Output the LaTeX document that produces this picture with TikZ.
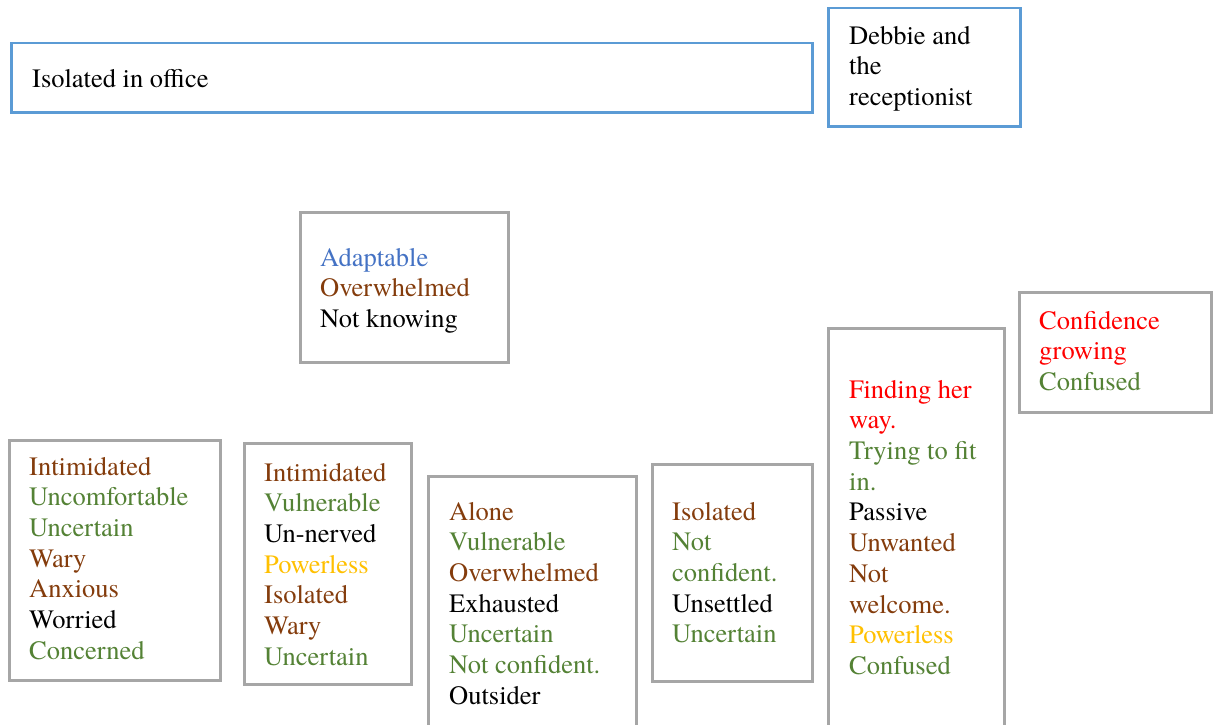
\documentclass[tikz,border=0pt]{standalone}
\usepackage{fontspec}
\setmainfont{texgyretermes-regular.otf}
\definecolor{brn}{HTML}{843C0C}
\definecolor{grn}{HTML}{548235}
\definecolor{blu}{HTML}{4472C4}
\definecolor{gld}{HTML}{FFC000}
\definecolor{red}{HTML}{FF0000}
\definecolor{blueedge}{HTML}{5B9BD5}
\definecolor{grayedge}{HTML}{A6A6A6}
\begin{document}
\begin{tikzpicture}[x=1pt,y=-1pt,
  framebox/.style={anchor=north west, inner sep=0pt, line width=2.5pt, fill=white},
  bluebox/.style={framebox, draw=blueedge},
  graybox/.style={framebox, draw=grayedge},
  words/.style={anchor=north west, inner sep=0pt, align=left,
    font=\fontsize{26.5}{30.7}\selectfont}]
\useasboundingbox (0,0) rectangle (1215,725);
\clip (0,0) rectangle (1215,725);

% top row: setting boxes
\node[bluebox, minimum width=801pt, minimum height=69pt] (office) at (10,42) {};
\node[words] (officetxt) at (32,65.5) {\strut Isolated in office};

\node[bluebox, minimum width=192pt, minimum height=118pt] (debbie) at (827,7) {};
\node[words] (debbietxt) at (849,22.5) {\strut Debbie and\\the\\receptionist};

% feelings boxes
\node[graybox, minimum width=208pt, minimum height=150pt] (adapt) at (299,211) {};
\node[words] (adapttxt) at (320,244.5) {\strut\textcolor{blu}{Adaptable}\\
  \textcolor{brn}{Overwhelmed}\\Not knowing};

\node[graybox, minimum width=211pt, minimum height=240pt] (boxa) at (8,439) {};
\node[words] (boxatxt) at (29,453.5) {\strut\textcolor{brn}{Intimidated}\\
  \textcolor{grn}{Uncomfortable}\\\textcolor{grn}{Uncertain}\\
  \textcolor{brn}{Wary}\\\textcolor{brn}{Anxious}\\Worried\\
  \textcolor{grn}{Concerned}};

\node[graybox, minimum width=167pt, minimum height=241pt] (boxb) at (243,442) {};
\node[words] (boxbtxt) at (264,459.5) {\strut\textcolor{brn}{Intimidated}\\
  \textcolor{grn}{Vulnerable}\\Un-nerved\\\textcolor{gld}{Powerless}\\
  \textcolor{brn}{Isolated}\\\textcolor{brn}{Wary}\\\textcolor{grn}{Uncertain}};

\node[graybox, minimum width=208pt, minimum height=270pt] (boxc) at (427,475) {};
\node[words] (boxctxt) at (449,498.5) {\strut\textcolor{brn}{Alone}\\
  \textcolor{grn}{Vulnerable}\\\textcolor{brn}{Overwhelmed}\\Exhausted\\
  \textcolor{grn}{Uncertain}\\\textcolor{grn}{Not confident.}\\Outsider};

\node[graybox, minimum width=160pt, minimum height=217pt] (boxd) at (651,463) {};
\node[words] (boxdtxt) at (672,498.5) {\strut\textcolor{brn}{Isolated}\\
  \textcolor{grn}{Not}\\\textcolor{grn}{confident.}\\Unsettled\\
  \textcolor{grn}{Uncertain}};

\node[graybox, minimum width=176pt, minimum height=420pt] (boxe) at (827,327) {};
\node[words] (boxetxt) at (849,376.5) {\strut\textcolor{red}{Finding her}\\
  \textcolor{red}{way.}\\\textcolor{grn}{Trying to fit}\\\textcolor{grn}{in.}\\
  Passive\\\textcolor{brn}{Unwanted}\\\textcolor{brn}{Not}\\
  \textcolor{brn}{welcome.}\\\textcolor{gld}{Powerless}\\\textcolor{grn}{Confused}};

\node[graybox, minimum width=192pt, minimum height=120pt] (boxf) at (1018,291) {};
\node[words] (boxftxt) at (1039,307.5) {\strut\textcolor{red}{Confidence}\\
  \textcolor{red}{growing}\\\textcolor{grn}{Confused}};
\end{tikzpicture}
\end{document}
